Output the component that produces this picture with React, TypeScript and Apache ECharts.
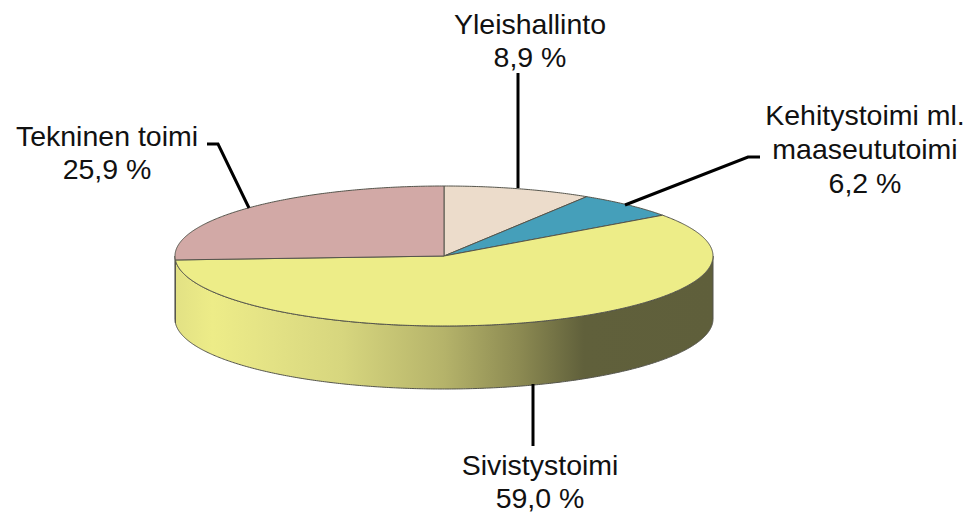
import React, { useEffect, useRef } from "react";
import * as echarts from "echarts";

const categories = ["Yleishallinto", "Kehitystoimi ml.\nmaaseututoimi", "Sivistystoimi", "Tekninen toimi"];
const values = [8.9, 6.2, 59.0, 25.9];
const percentLabels = ["8,9 %", "6,2 %", "59,0 %", "25,9 %"];
const sliceColors = ["#ecdccb", "#459fba", "#eded88", "#d2a9a6"];

const CX = 444, CY = 256, RX = 269, RY = 70, DEPTH = 63;
const EDGE = "#55554c";
const FONT = '28.5px "Liberation Sans", Arial, sans-serif';

const labelLayout = [
  { x: 530, y: 40, lh: 33, line: [[518, 73], [518, 188]] },
  { x: 865, y: 149, lh: 34, line: [[760, 157], [748, 157], [625, 205]] },
  { x: 540, y: 481, lh: 33, line: [[533, 384], [533, 446]] },
  { x: 107, y: 152, lh: 33, line: [[207, 144], [218, 144], [249, 208]] },
];

const total = values.reduce((a, b) => a + b, 0);
const sliceRange = (i: number): [number, number] => {
  const before = values.slice(0, i).reduce((a, b) => a + b, 0);
  return [(before / total) * 360, ((before + values[i]) / total) * 360];
};
const pt = (deg: number, dy = 0): number[] => {
  const t = (deg * Math.PI) / 180;
  return [CX + RX * Math.sin(t), CY - RY * Math.cos(t) + dy];
};
const arc = (a: number, b: number, dy = 0): number[][] => {
  const pts: number[][] = [];
  const n = Math.max(2, Math.ceil((b - a) * 2));
  for (let k = 0; k <= n; k++) pts.push(pt(a + ((b - a) * k) / n, dy));
  return pts;
};

const wallGradient = new echarts.graphic.LinearGradient(
  CX - RX, 0, CX + RX, 0,
  [
    { offset: 0, color: "#e2e184" },
    { offset: 0.07, color: "#edec88" },
    { offset: 0.18, color: "#e3e285" },
    { offset: 0.31, color: "#d7d67e" },
    { offset: 0.5, color: "#b5b36a" },
    { offset: 0.64, color: "#8c8a52" },
    { offset: 0.76, color: "#60603b" },
    { offset: 1, color: "#5f5f3b" },
  ],
  true as any
);

export default function App() {
  const ref = useRef<HTMLDivElement>(null);
  useEffect(() => {
    document.body.style.margin = "0";
    const chart = echarts.init(ref.current!, undefined, { renderer: "svg" });
    chart.setOption({
      animation: false,
      backgroundColor: "#ffffff",
      series: [
        {
          type: "custom",
          coordinateSystem: "none",
          silent: true,
          data: values,
          renderItem: (params: any) => {
            const [a, b] = sliceRange(params.dataIndex);
            const from = Math.max(a, 90), to = Math.min(b, 270);
            if (to <= from) return { type: "group", children: [] };
            const points = [...arc(from, to), ...arc(from, to, DEPTH).reverse()];
            return {
              type: "polygon",
              shape: { points },
              style: { fill: wallGradient, stroke: EDGE, lineWidth: 1 },
            };
          },
        },
        {
          type: "custom",
          coordinateSystem: "none",
          silent: true,
          data: values,
          renderItem: (params: any) => {
            const [a, b] = sliceRange(params.dataIndex);
            return {
              type: "polygon",
              shape: { points: [[CX, CY], ...arc(a, b)] },
              style: { fill: sliceColors[params.dataIndex], stroke: EDGE, lineWidth: 1 },
            };
          },
        },
      ],
      graphic: categories.flatMap((name, i) => [
        {
          type: "polyline",
          shape: { points: labelLayout[i].line },
          style: { stroke: "#000000", lineWidth: 3, fill: "none" },
          z: 10,
        },
        {
          type: "text",
          x: labelLayout[i].x,
          y: labelLayout[i].y,
          z: 11,
          style: {
            text: name + "\n" + percentLabels[i],
            font: FONT,
            lineHeight: labelLayout[i].lh,
            fill: "#111111",
            textAlign: "center",
            textVerticalAlign: "middle",
          },
        },
      ]),
    });
    return () => chart.dispose();
  }, []);
  return <div ref={ref} style={{ width: 973, height: 515 }} />;
}
